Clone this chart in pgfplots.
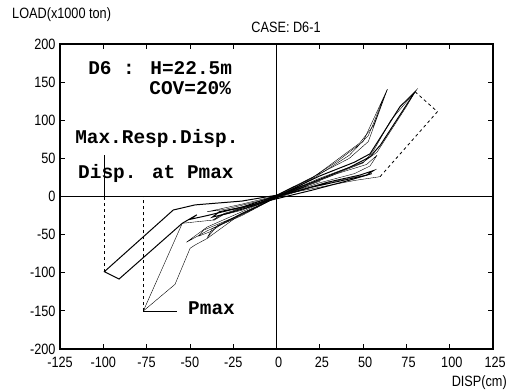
\documentclass[border=0pt]{standalone}
\usepackage{pgfplots}
\pgfplotsset{compat=1.18}
\usepackage{fontspec}
\setmainfont{Liberation Sans}
\newfontfamily\lab[FakeStretch=0.85]{Liberation Sans}
\newfontfamily\mono{Liberation Mono}
\begin{document}
\begin{tikzpicture}
\begin{axis}[
  scale only axis, width=433bp, height=305bp,
  xmin=-125, xmax=125, ymin=-200, ymax=200,
  xtick={-125,-100,-75,-50,-25,0,25,50,75,100,125},
  ytick={-200,-150,-100,-50,0,50,100,150,200},
  xticklabels={-125,-100,-75,-50,-25,\phantom{-}0,\phantom{-}25,\phantom{-}50,\phantom{-}75,\phantom{-}100,\phantom{-}125},
  yticklabels={-200,-150,-100,-50,0,50,100,150,200},
  tick label style={font=\lab\fontsize{15}{15}\selectfont, black},
  xticklabel style={yshift=-5bp},
  yticklabel style={xshift=-1bp},
  tick align=inside, major tick length=5bp,
  tick style={black, line width=0.8pt},
  axis line style={line width=1.2pt},
  clip=false,
  cycle list={{black, mark=none, line width=1pt, line join=round}},
]
% zero lines
\addplot[black, line width=1pt] coordinates {(-125,0) (125,0)};
\addplot[black, line width=1pt] coordinates {(0,-200) (0,200)};

% outer negative cycle (max response displacement)
\addplot coordinates {(6,4) (-20,-6) (-47,-11) (-59.6,-17.7) (-99.4,-98.6) (-90.9,-108.2) (-54.4,-35.1) (-49,-28) (-46,-24) (-50,-30) (-40,-25) (-20,-14) (0,-3) (20,8) (40,20) (55,30)};
% Pmax cycle
\addplot coordinates {(4,3) (-20,-22) (-40,-55) (-47,-63.6) (-49.9,-68) (-58.6,-115.2) (-76.9,-150.2) (-54.4,-35.1) (-37,-31) (-30,-22) (-15,-12) (0,-2) (20,12)};
% Pmax leader and guides
\addplot coordinates {(-76.9,-150.2) (-57.4,-150.2)};
\addplot[black, dashed, line width=0.8pt] coordinates {(-76.9,-150.2) (-76.9,0)};
\addplot[black, dashed, line width=0.8pt] coordinates {(-99.4,-98.6) (-99.4,0)};
\addplot coordinates {(-99.4,0) (-99.4,54.4)};

% peak 1 cycle
\addplot coordinates {(-5,-5) (20,24) (35,46) (50,72) (64,140.6) (56,96) (53,80) (42,54) (20,22) (0,-1) (-20,-25) (-37,-42) (-40,-54) (-34,-38) (-20,-22) (0,-1) (10,8)};
\addplot coordinates {(-3,-2) (20,23) (48,70) (56,93) (64,140.6) (53,72) (42,50) (25,30) (0,2) (-20,-18) (-34,-26) (-36,-31) (-30,-23) (-10,-8) (4,4)};
% peak 2 cycle
\addplot coordinates {(0,0) (25,27) (45,45) (54,56) (71.3,117.8) (80,137.4) (60,67.5) (54,52) (42,38) (20,18) (0,1) (-20,-14) (-33,-20) (-37,-27) (-28,-22) (-10,-10) (2,1)};
\addplot coordinates {(-2,-2) (25,24) (50,45) (58,58) (75,118) (80,137.4) (66,100) (56,60) (50,44) (30,26) (0,0) (-20,-20) (-40,-40) (-52,-60) (-40,-45) (-20,-24) (0,-1)};
% final part with dashed unloading
\addplot[black, dashed, line width=0.8pt] coordinates {(80,137.4) (92.9,111.2) (59.8,26)};
\addplot coordinates {(59.8,26) (45,21) (20,10) (0,1) (-20,-10) (-40,-20) (-30,-17) (-10,-6) (3,2)};
% lower positive lines
\addplot coordinates {(-4,-3) (20,12) (40,22) (52,28) (56,34) (48,28) (30,19) (10,6) (-2,-1)};
\addplot coordinates {(-3,-3) (25,18) (45,30) (54,40) (58,54) (52,42) (35,30) (15,12) (0,-1) (-25,-28) (-42,-44) (-45,-52) (-38,-46) (-30,-34) (-15,-18) (2,1)};
% small elastic cycles near origin
\addplot coordinates {(-25,-18) (-10,-9) (15,12) (25,20) (10,8) (-15,-12) (-25,-18)};
\addplot coordinates {(-18,-16) (0,-2) (18,14) (5,5) (-10,-10) (-18,-16)};

% annotations
\node[anchor=west, inner sep=0pt, font=\mono\bfseries\fontsize{19.5}{20}\selectfont] at (axis cs:-108.8,168.5) {D6 : H=22.5m};
\node[anchor=west, inner sep=0pt, font=\mono\bfseries\fontsize{19.5}{20}\selectfont] at (axis cs:-73.5,142.3) {COV=20\%};
\node[anchor=west, inner sep=0pt, font=\mono\bfseries\fontsize{19.5}{20}\selectfont] at (axis cs:-116.3,76.7) {Max.Resp.Disp.};
\node[anchor=west, inner sep=0pt, font=\mono\bfseries\fontsize{19.5}{20}\selectfont] at (axis cs:-114.6,30.8) {Disp. at Pmax};
\node[anchor=west, inner sep=0pt, font=\mono\bfseries\fontsize{19.5}{20}\selectfont] at (axis cs:-51.1,-146.2) {Pmax};
\end{axis}
\node[anchor=west, inner sep=0pt, font=\lab\fontsize{15}{15}\selectfont] at ([xshift=-48bp,yshift=29bp]current axis.north west) {LOAD(x1000 ton)};
\node[anchor=center, inner sep=0pt, font=\lab\fontsize{15}{15}\selectfont] at ([xshift=226bp,yshift=17bp]current axis.north west) {CASE: D6-1};
\node[anchor=east, inner sep=0pt, font=\lab\fontsize{15}{15}\selectfont] at ([xshift=14bp,yshift=-34bp]current axis.south east) {DISP(cm)};
\pgfresetboundingbox
\path (current axis.south west) ++(-60bp,-42bp) rectangle ++(513bp,391bp);
\end{tikzpicture}
\end{document}
